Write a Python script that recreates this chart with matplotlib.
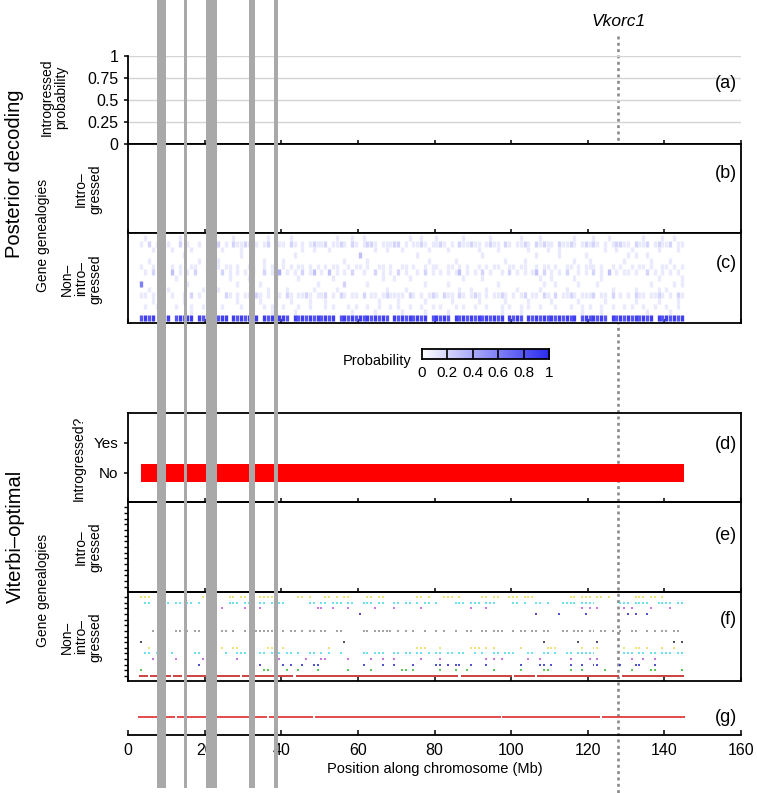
import numpy as np
import matplotlib
matplotlib.use('Agg')
import matplotlib.pyplot as plt
from matplotlib.colors import LinearSegmentedColormap

plt.rcParams['font.family'] = ['Liberation Sans', 'DejaVu Sans']

# Chromosome axis (Mb)
x_ticks = [0, 20, 40, 60, 80, 100, 120, 140, 160]
chrom_start = 3.5
chrom_end = 145.0
vkorc1_pos = 128.0

# Masked regions (grey bands)
band_starts = [7.6, 14.6, 20.4, 31.6, 38.2]
band_ends = [9.9, 15.4, 23.2, 33.1, 39.2]

prob_ticks = [0, 0.25, 0.5, 0.75, 1]
prob_labels = ['0', '0.25', '0.5', '0.75', '1']
cbar_ticks = [0, 0.2, 0.4, 0.6, 0.8, 1]
cbar_labels = ['0', '0.2', '0.4', '0.6', '0.8', '1']

state_labels = ['No', 'Yes']
viterbi_state = 0  # 'No' along the whole chromosome

n_genealogies = 15

# Posterior decoding, non-introgressed genealogies (c)
# one char per 1 Mb bin from 0 Mb, digit = probability in tenths
posterior_rows = [
    "....1..... ...1...... .1.....1.. ......1... ..1....... ....1...1. .1........ ...1..1... 1......1.. ....1..... ..1....1.. ......1... .1...1.... ....1....1 ..1.......",
    "...1.2.1.. 1..2.1..1. ..12.1.211 21.1.12.11 1.21.1.121 12.1121.21 .1221.1112 2.1.1121.1 121.1.2112 11.1211.21 .1121.2121 1.21121.12 121.1.1221 1.2112.121 12.11.....",
    "......1... .1....1... ....1....1 ..1....... .....1..1. ..1....... ....1..1.. .1......1. ...1...... .1....1... ....1....1 ..1....... ....1..1.. .1......1. ...1......",
    ".......... ....1..... .........1 .......... ...1...... .......... 3......... .....1.... .......... ..1....... ......1... ..1......1 .......... 1.1..1.... ..........",
    ".....1.... ........1. ...1...... .....1.... 1......... ......1... ..1....... ........1. .....1.... ........1. ...1...... ......1... 1........1 ......1... .1........",
    "...1..1.1. .1.1..11.. 1..1.11.1. .11..1.11. 1.1.11.1.1 .1.11..1.1 1.1..11.1. .11.1..1.1 1..11.1.1. .1.1.11..1 1.11..1.11 .1..11.1.1 11.1..1.1. .1.11.1..1 1.1.1.....",
    "....1.2.1. .3.1.1.2.. 1.1.2.1.1. 1.1..2.1.4 .1.1.2.13. 1.3.1.1.2. .1..2.1.1. 2.1..1.2.1 .1.1.13.1. 1.2.1..1.2 .1.1.13.2. 1.1.2..1.1 .2.1.3.1.1 1.1..2.1.1 .1.1......",
    "........1. ..1....... ......1... .1......1. ....1..... ...1...... ......1..1 ...1...... .......1.. ..1....... .......1.. 1.....1... ...1...... ........1. ....1.....",
    "...6...... .....1.... ........1. ....1..... .........1 ......2... ..1....... .......1.. ...1...... ......1... ........1. .1.....1.. ..1....... ......1... ..1.1.....",
    ".....1.... 1........1 ...1...... ......1... .1......1. ....1..... .......1.. ..1....... ......1..1 ...1...... .1.....1.. ....1..... ......1... ..1.....1. 1.........",
    "...11.1.21 .1..1.2.1. 1.1..21.1. 11.21.1.21 .21.1121.1 12.1.21.11 .2.11.1211 11.21.1.12 1.211.21.1 21.1.1121. 1.12.11.21 .2.1121.11 12.11.2.1. 1.211.1121 .1.21.....",
    "......1... ....1..... 1.......1. ....1..... ..1....1.. .1........ .....1.... 1......1.. ....1..... .1......1. ....1..... 1......1.. ....1..... ..1.....1. ...1......",
    "....1..1.. ..1...1..1 .1..1....1 ..1..1.1.. 1...1..1.. .1.1...1.1 ..1..1..1. 1..1..1..1 .1...1.1.. 1..1...1.1 ..1.1..1.. .1...1..1. 1..1..1..1 .1..1..1.. 1..1......",
    "........1. ......1... ..1....... .......1.. ...1...... ........1. ....1..... .1.....1.. ...1...... .......1.. ..1....... ........1. ...1...... .....1.... .1........",
    "...8989.98 9.89899.98 989899.989 8989.98989 98.9898989 8989.89898 98989898.9 89898989.8 9898.98989 89898989.9 898.989898 9898989.89 89898.9898 9898989.98 98989.....",
]

# Viterbi-optimal, non-introgressed genealogies (f): x = genealogy chosen in that bin
viterbi_rows = [
    "...xxx.... .........x ......xx.x x...xxxx.. ....xx.x.. .xx.x.xx.. ..xx.xx... .....xx.x. ..xxx.x... ..xx.xx..x xx.xxx.... .....xx.xx x.xx.x.... ..xxx.xx.x ..........",
    "....xx.... x.xx.xx.x. ......xxx. xx..xx.xxx x......xx. xx.xxx.xx. .xxx.xx..x x.xx.x.xx. x....xxx.x xx.xxx.... xx.x..xx.x ...xxxx.xx xx......xx x.xxxx..xx xx.xx.....",
    ".......... .......... ....x..... x...x..... .........x x..x...x.. ....x....x ......x... .........x ...x...... .......... ........x. x.x......x .x....x... .x........",
    ".......... .......... .......... .......... .......... .......... x......... .......... .......... .......... ......x... ..x......x .......... x.x..x.... ..........",
    "",
    "",
    "......x..x ..xx.x.xx. ....xx.x.. x..xxxxx.. x.xx.x.xx. xx..xx.... .xx.xxxxx. x.x.x..x.. x.x..x..xx ..xx.xxx.. x.xx.xx.xx ...xx.xxx. xx.xx.x.x. .xx..x.x.x x.xx......",
    "",
    "...x...... .......... .......... .......... .......... ......x... .......... .......... .......... .......... ........x. .......x.. ..x....... .......... ..x.x.....",
    ".....x.... .......... ....x..xx. ......xx.. x......... ..x....... .......... .....xxx.. .x.......x xx.x.x.... ..x......x xx......x. .xx......x ..xx.x...x ..x.......",
    "....xx.x.. .x.....xx. x....x..xx x...xx.xxx .xx.x..xx. x.x..x.... .xx.xxx..x x.xx.xx.x. xx.xx.xx.. x.x..xx.xx x...xx..xx .x..xx.xxx xx.......x xx.xx.xx.x xx.xx.....",
    "......x... ..x......x ........x. .........x ......x... xx.....x.. ...x..x..x ......x... .x........ ...x.x.x.. ....x..x.. .....x.... x.x....... .x..x..x.. ..........",
    ".......... ........x. .......... ....x..... x.x..x..xx .......... .x....x..x ....x..... xx.x.xx..x ...x...... ..x....xx. x....x..x. .xx.....x. ..xx...x.. ..........",
    "...x...... .......... x......... .....xx... .x..x....x .......x.. ...x...... .xx.x..... .x...x..x. .....x.... ..x.....xx .....x..x. ....x..... .x....xx.. ....x.....",
    "...xx.xxxx x.xx.xxxxx xxxxxxxxx. xxxxxxxx.x xxx.xxxxxx xxxxxxxxxx xxxxxxxxxx xxxxxxxxxx xxxxxx.xxx xxxxxxxxxx .xxxxx.xxx xxxxxxxxxx xxxxxxxx.x xxxxxxxxxx xxxxx.....",
]
row_colors = ['#eadf5a', '#52dcec', '#c45ad8', '#3030c8', None, None, '#909090', None,
              '#303048', '#eadf5a', '#52dcec', '#c45ad8', '#3030c8', '#3cbe3c', '#cc4040']

# (g) single red track
g_row = "...xxxxxxx xx.xxxxxxx xxxxxxxxxx xxxxxx.xxx xxxxxxxx.x xxxxxxxxxx xxxxxxxxxx xxxxxxxxxx xxxxxxxxxx xxxxxxx.xx xxxxxxxxxx xxxxxxxxxx xxx.xxxxxx xxxxxxxxxx xxxxx....."

W, H = 757, 793
SPINE = 1.3


def px_rect(left, top, width, height):
    return [left / W, 1 - (top + height) / H, width / W, height / H]


def fig_text(fig, x, y, s, **kw):
    fig.text(x / W, 1 - y / H, s, ha='center', va='center', **kw)


def bins(row):
    s = row.replace(' ', '')
    return [(k, ch) for k, ch in enumerate(s) if ch != '.']


def runs(row):
    s = row.replace(' ', '') + '.'
    out, start = [], None
    for k, ch in enumerate(s):
        if ch != '.' and start is None:
            start = k
        elif ch == '.' and start is not None:
            out.append((start, k))
            start = None
    return out


def style_panel(ax, box=True):
    ax.set_xlim(0, 160)
    ax.set_xticks(x_ticks)
    ax.tick_params(axis='x', direction='in', length=3, width=1.1, labelbottom=False)
    for s in ax.spines.values():
        s.set_linewidth(SPINE)
    if not box:
        ax.spines['top'].set_visible(False)
        ax.spines['right'].set_visible(False)


def genealogy_axis(ax, ticks):
    ax.set_ylim(n_genealogies + 0.9, 0.1)
    if ticks:
        ax.set_yticks(range(1, n_genealogies + 1))
        ax.tick_params(axis='y', direction='out', length=3, width=1.0, labelleft=False)
    else:
        ax.set_yticks([])


def main():
    fig = plt.figure(figsize=(W / 100, H / 100), dpi=100)
    cmap = LinearSegmentedColormap.from_list('wb', ['#ffffff', '#2a2af0'])

    # background: Vkorc1 marker
    bg = fig.add_axes([128 / W, 0, 613 / W, 1])
    bg.set_xlim(0, 160)
    bg.set_ylim(H, 0)
    bg.axis('off')
    bg.plot([vkorc1_pos, vkorc1_pos], [36, H], color='#8a8a8a', lw=1.9, ls=(0, (1.1, 1.3)))
    bg.text(vkorc1_pos, 21, 'Vkorc1', style='italic', ha='center', va='center', fontsize=12.5)

    # (a) introgressed probability
    ax_a = fig.add_axes(px_rect(128, 56, 613, 88))
    ax_a.set_facecolor('none')
    style_panel(ax_a, box=False)
    ax_a.set_ylim(0, 1)
    ax_a.set_yticks(prob_ticks, prob_labels)
    ax_a.tick_params(axis='y', direction='out', length=3, width=1.1, labelsize=11.5, pad=4)
    ax_a.grid(axis='y', color='#d4d4d4', lw=1.0)
    ax_a.grid(axis='x', visible=False)

    # (b) introgressed genealogies (posterior) - empty
    ax_b = fig.add_axes(px_rect(128, 144, 613, 89))
    style_panel(ax_b)
    genealogy_axis(ax_b, False)

    # (c) non-introgressed genealogies (posterior)
    ax_c = fig.add_axes(px_rect(128, 233, 613, 90))
    style_panel(ax_c)
    genealogy_axis(ax_c, False)
    for r, row in enumerate(posterior_rows, start=1):
        b = bins(row)
        if not b:
            continue
        xs = [k + 0.5 for k, _ in b]
        cols = [cmap(int(ch) / 10) for _, ch in b]
        ax_c.vlines(xs, r - 0.5, r + 0.5, colors=cols, linewidth=2.4)

    # colour key
    ax_k = fig.add_axes(px_rect(422, 349, 127, 10))
    ax_k.imshow(np.linspace(0, 1, 256).reshape(1, -1), cmap=cmap, aspect='auto',
                extent=(0, 1, 0, 1))
    for t in cbar_ticks[1:-1]:
        ax_k.axvline(t, color='black', lw=1.2)
    ax_k.set_xlim(0, 1)
    ax_k.set_yticks([])
    ax_k.set_xticks(cbar_ticks, cbar_labels)
    ax_k.tick_params(axis='x', length=0, labelsize=11, pad=5)
    for s in ax_k.spines.values():
        s.set_linewidth(SPINE)
    fig.text(411 / W, 1 - 361 / H, 'Probability', ha='right', va='center', fontsize=10.5)

    # (d) Viterbi introgressed state
    ax_d = fig.add_axes(px_rect(128, 413, 613, 89))
    ax_d.set_facecolor('none')
    style_panel(ax_d)
    ax_d.set_ylim(-0.97, 2.0)
    ax_d.set_yticks([0, 1], state_labels)
    ax_d.tick_params(axis='y', direction='out', length=3, width=1.1, labelsize=11, pad=4)
    ax_d.barh(viterbi_state, chrom_end - chrom_start, left=chrom_start, height=0.6,
              color='#ff0000')

    # (e) introgressed genealogies (Viterbi) - empty
    ax_e = fig.add_axes(px_rect(128, 502, 613, 90))
    ax_e.set_facecolor('none')
    style_panel(ax_e)
    genealogy_axis(ax_e, True)

    # (f) non-introgressed genealogies (Viterbi)
    ax_f = fig.add_axes(px_rect(128, 592, 613, 89))
    ax_f.set_facecolor('none')
    style_panel(ax_f)
    genealogy_axis(ax_f, True)
    for r, (row, col) in enumerate(zip(viterbi_rows, row_colors), start=1):
        if not row:
            continue
        if r == n_genealogies:
            for a, b in runs(row):
                ax_f.hlines(r, a - 0.15, b + 0.15, color=col, lw=1.4)
        else:
            xs = np.array([k + 0.5 for k, _ in bins(row)])
            ax_f.hlines([r] * len(xs), xs - 0.26, xs + 0.26, color=col, lw=1.2)

    # (g) bottom track with the chromosome axis
    ax_g = fig.add_axes(px_rect(128, 690, 613, 45))
    ax_g.set_facecolor('none')
    ax_g.set_xlim(0, 160)
    ax_g.set_ylim(0, 1)
    for s in ['top', 'right', 'left']:
        ax_g.spines[s].set_visible(False)
    ax_g.spines['bottom'].set_linewidth(SPINE)
    ax_g.set_yticks([])
    ax_g.set_xticks(x_ticks)
    ax_g.tick_params(axis='x', direction='in', length=3.5, width=1.1, labelsize=11.5, pad=6)
    ax_g.set_xlabel('Position along chromosome (Mb)', fontsize=10.5, labelpad=3)
    for a, b in runs(g_row):
        ax_g.hlines(0.4, a - 0.3, b + 0.3, color='#e23c3c', lw=1.3)

    # panel letters
    for lab, y in zip(['(a)', '(b)', '(c)', '(d)', '(e)', '(f)', '(g)'],
                      [83, 173, 263, 445, 535, 620, 717]):
        fig.text(737 / W, 1 - y / H, lab, ha='right', va='center', fontsize=13)

    # row titles
    fig_text(fig, 15, 174, 'Posterior decoding', rotation=90, fontsize=14.5)
    fig_text(fig, 54, 97, 'Introgressed\nprobability', rotation=90, fontsize=10, linespacing=1.0)
    fig_text(fig, 43, 235, 'Gene genealogies', rotation=90, fontsize=10)
    fig_text(fig, 88, 189, 'Intro\u2013\ngressed', rotation=90, fontsize=10, linespacing=1.0)
    fig_text(fig, 81, 279, 'Non\u2013\nintro\u2013\ngressed', rotation=90, fontsize=10, linespacing=1.0)

    fig_text(fig, 15, 536, 'Viterbi\u2013optimal', rotation=90, fontsize=14.5)
    fig_text(fig, 79, 458, 'Introgressed?', rotation=90, fontsize=10)
    fig_text(fig, 43, 590, 'Gene genealogies', rotation=90, fontsize=10)
    fig_text(fig, 88, 547, 'Intro\u2013\ngressed', rotation=90, fontsize=10, linespacing=1.0)
    fig_text(fig, 81, 637, 'Non\u2013\nintro\u2013\ngressed', rotation=90, fontsize=10, linespacing=1.0)

    # overlay: masked regions on top of everything
    ov = fig.add_axes([128 / W, 0, 613 / W, 1])
    ov.set_zorder(10)
    ov.set_xlim(0, 160)
    ov.set_ylim(H, 0)
    ov.axis('off')
    ov.patch.set_visible(False)
    widths = [e - s for s, e in zip(band_starts, band_ends)]
    ov.bar(band_starts, 788, width=widths, bottom=0, align='edge', color='#a9a9a9')

    fig.savefig('out.png', dpi=100)


if __name__ == '__main__':
    main()
